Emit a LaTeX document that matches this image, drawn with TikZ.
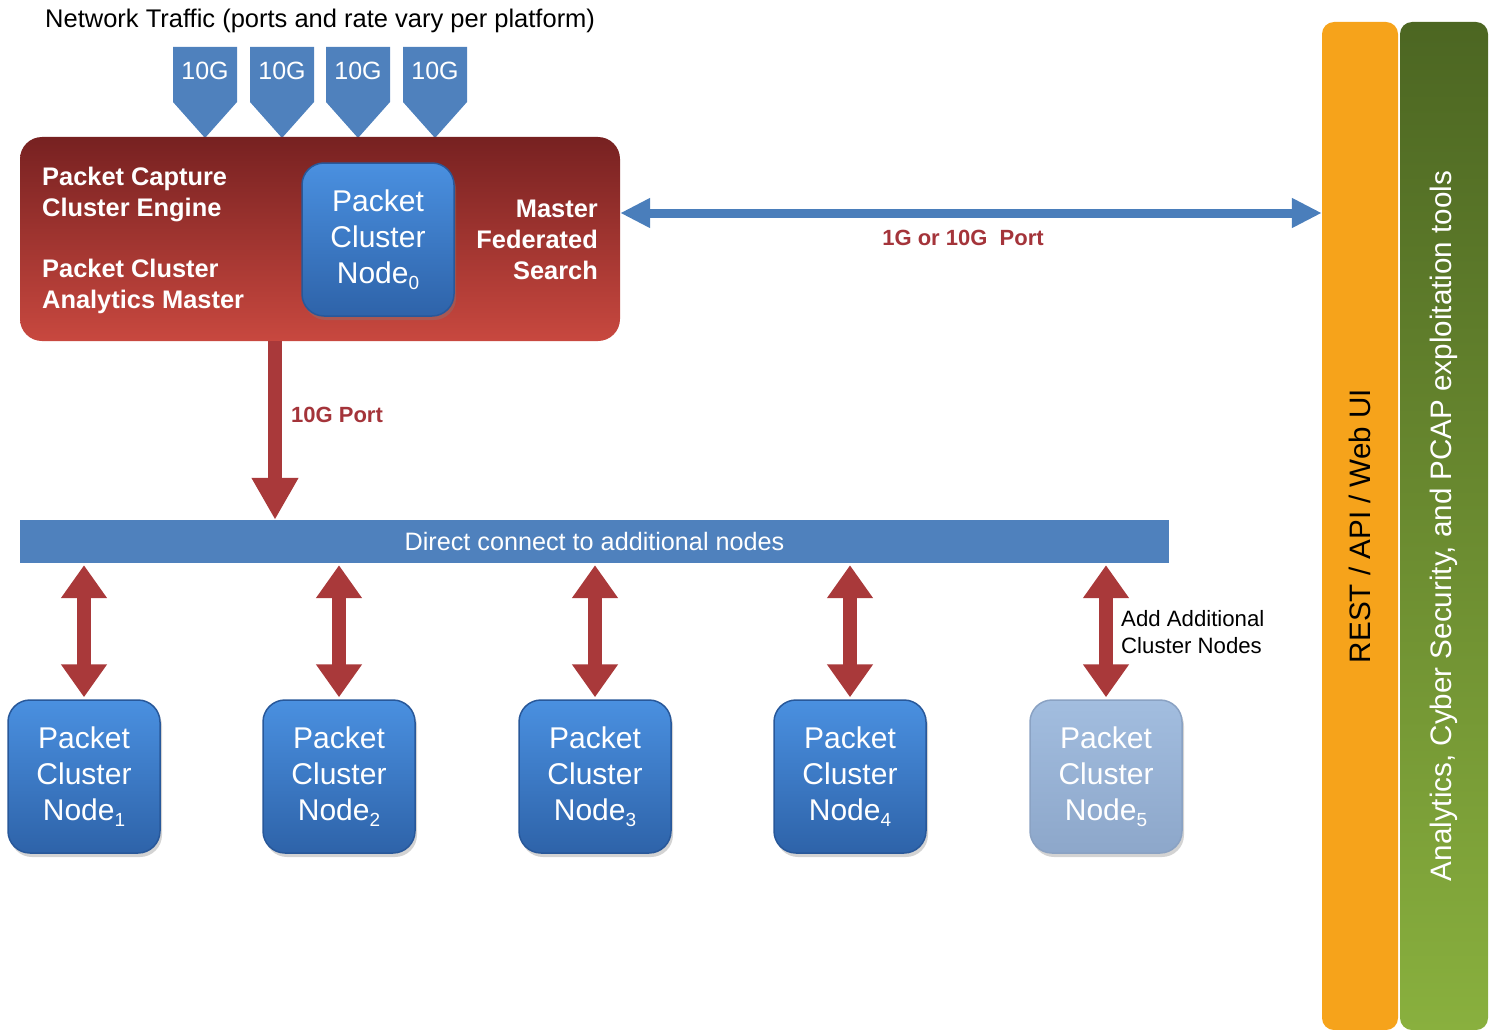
\documentclass[tikz,border=0pt]{standalone}
\usepackage{fontspec}
\setmainfont{Liberation Sans}
\usepackage{tikz}
\usetikzlibrary{arrows.meta,shadows}
\usepackage{color}

\definecolor{portblue}{HTML}{4F81BD}
\definecolor{linkblue}{HTML}{4A7EBB}
\definecolor{pipered}{HTML}{A9393A}
\definecolor{labelred}{HTML}{A4343A}
\definecolor{mastertop}{HTML}{772121}
\definecolor{masterbot}{HTML}{C8483F}
\definecolor{nodetop}{HTML}{4A90E0}
\definecolor{nodebot}{HTML}{2E63A9}
\definecolor{nodeedge}{HTML}{28589A}
\definecolor{ghosttop}{HTML}{A2BDDF}
\definecolor{ghostbot}{HTML}{8DA7CA}
\definecolor{ghostedge}{HTML}{8AA2C3}
\definecolor{restorange}{HTML}{F6A31B}
\definecolor{tooltop}{HTML}{4C6622}
\definecolor{toolbot}{HTML}{89B03E}

\newcommand{\nsub}[1]{\raisebox{-0.35ex}{\fontsize{19}{19}\selectfont #1}}

\begin{document}
\begin{tikzpicture}[x=1pt, y=-1pt,
  clusternode/.style={rounded corners=22pt, minimum width=152pt, minimum height=153pt,
    top color=nodetop, bottom color=nodebot, draw=nodeedge, line width=1.5pt,
    text=white, align=center, font=\fontsize{30}{36}\selectfont,
    drop shadow={opacity=0.35, shadow xshift=2pt, shadow yshift=-4pt}},
  ghostnode/.style={clusternode, top color=ghosttop, bottom color=ghostbot, draw=ghostedge},
  masterbox/.style={rounded corners=22pt, minimum width=600pt, minimum height=204pt,
    top color=mastertop, bottom color=masterbot},
  mastertext/.style={text=white, inner sep=0, font=\bfseries\fontsize{25.4}{31}\selectfont},
  porttext/.style={text=white, inner sep=0, font=\fontsize{25}{30}\selectfont},
  busbar/.style={fill=portblue, minimum width=1149pt, minimum height=43pt, inner sep=0,
    text=white, font=\fontsize{25.2}{30}\selectfont},
  pipelabel/.style={text=labelred, inner sep=0, font=\bfseries\fontsize{22}{27}\selectfont},
  downpipe/.style={pipered, line width=14pt, -{Triangle[width=44pt, length=42pt]}},
  duplexpipe/.style={pipered, line width=14pt,
    {Triangle[width=44pt, length=33pt]}-{Triangle[width=44pt, length=33pt]}},
  linkarrow/.style={linkblue, line width=9pt,
    {Triangle[width=28pt, length=30pt]}-{Triangle[width=28pt, length=30pt]}},
  sidebar/.style={rounded corners=12pt, minimum height=1008pt, inner sep=0},
  bartext/.style={rotate=90, inner sep=0, font=\fontsize{29.6}{34}\selectfont}]
\useasboundingbox (0,0) rectangle (1496,1030);

\node[anchor=west, inner sep=0, font=\fontsize{25.5}{30}\selectfont] (traffic) at (45,21)
  {Network Traffic (ports and rate vary per platform)};

% incoming ports
\foreach \x in {205,282,358,435} {
  \fill[portblue] (\x-32,47) -- (\x+32,47) -- (\x+32,102) -- (\x,138) -- (\x-32,102) -- cycle;
  \node[porttext] (port\x) at (\x,71) {10G};
}

% master box
\node[masterbox] (master) at (320,239) {};
\node[mastertext, anchor=west, align=left] (capture) at (42,194) {Packet Capture\\Cluster Engine};
\node[mastertext, anchor=west, align=left] (analytics) at (42,286) {Packet Cluster\\Analytics Master};
\node[mastertext, anchor=east, align=right] (federated) at (598,240) {Master\\Federated\\Search};
\node[clusternode] (pcn0) at (378,239.5) {Packet\\Cluster\\Node\nsub{0}};

% side bars
\node[sidebar, minimum width=76pt, fill=restorange] (rest) at (1360,526) {};
\node[bartext, text=black] (resttext) at (rest.center) {REST / API / Web UI};
\node[sidebar, minimum width=88pt, top color=tooltop, bottom color=toolbot] (tools) at (1444,526) {};
\node[bartext, text=white] (toolstext) at (tools.center)
  {Analytics, Cyber Security, and PCAP exploitation tools};

\coordinate (linky) at (0,213);
\draw[linkarrow] (master.east |- linky) -- (rest.west |- linky)
  node[midway, pipelabel, anchor=north, yshift=-13pt, xshift=-8pt] (linklabel) {1G or 10G~~Port};

% cluster bus
\node[busbar] (bus) at (594.5,541.5) {Direct connect to additional nodes};
\draw[downpipe] (275,0 |- master.south) -- (275,0 |- bus.north);
\node[pipelabel, anchor=west] (portlabel) at (291,415) {10G Port};

\foreach \i/\x in {1/84, 2/339, 3/595, 4/850} {
  \node[clusternode] (pcn\i) at (\x,776.5) {Packet\\Cluster\\Node\nsub{\i}};
  \draw[duplexpipe] ([yshift=2pt]pcn\i.north) -- ([yshift=-2pt]pcn\i.north |- bus.south);
}
\node[ghostnode] (pcn5) at (1106,776.5) {Packet\\Cluster\\Node\nsub{5}};
\draw[duplexpipe] ([yshift=2pt]pcn5.north) -- ([yshift=-2pt]pcn5.north |- bus.south);
\node[anchor=west, align=left, inner sep=0, font=\fontsize{22.2}{27}\selectfont] (addnote)
  at (1121,632) {Add Additional\\Cluster Nodes};
\end{tikzpicture}
\end{document}
